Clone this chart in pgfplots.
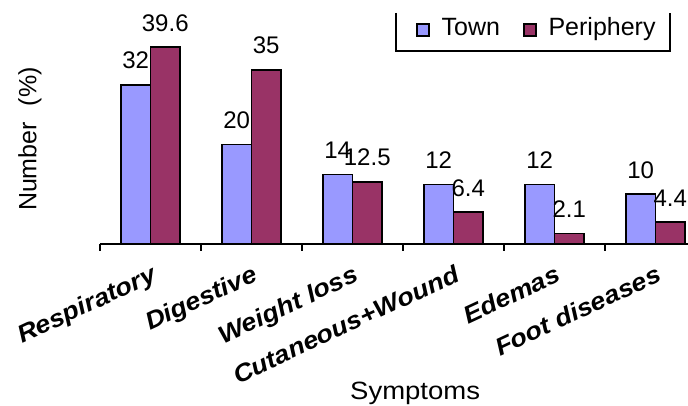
\documentclass[border=0pt]{standalone}
\usepackage{fontspec}
\setmainfont{Liberation Sans}
\newfontfamily\labfont{Liberation Sans}[FakeStretch=1.1]
\usepackage{pgfplots}
\pgfplotsset{compat=1.18}
\definecolor{town}{HTML}{9999FF}
\definecolor{peri}{HTML}{993366}
\begin{document}
\begin{tikzpicture}[x=1pt,y=1pt]
\useasboundingbox (0,0) rectangle (688,406);
\clip (0,0) rectangle (688,406);
\begin{axis}[
  at={(100pt,162pt)}, anchor=south west,
  scale only axis, width=606pt, height=244pt,
  xmin=-0.5, xmax=5.5, ymin=0, ymax=49.05,
  /pgf/number format/assume math mode=true,
  ybar=0pt, bar width=29.5pt,
  axis lines*=left,
  axis line style={-, line width=1.5pt},
  y axis line style={draw=none},
  ytick=\empty,
  xtick={0,...,5},
  xticklabels={Respiratory,Digestive,Weight loss,Cutaneous+Wound,Edemas,Foot diseases},
  minor xtick={-0.5,0.5,...,5.5},
  major tick length=0pt, minor tick length=7pt,
  tick align=outside,
  minor tick style={black, line width=1.3pt},
  xticklabel style={font=\labfont\fontsize{24.5}{28}\selectfont\bfseries\itshape, rotate=25, anchor=north east, inner sep=0pt},
  xticklabel shift=20pt,
  ylabel={Number\hspace{16pt}(\%)},
  ylabel style={at={(axis description cs:-0.1155,0.43)}, anchor=center, rotate=0, font=\fontsize{25}{28}\selectfont},
  xlabel={Symptoms},
  xlabel style={at={(axis description cs:0.52,-0.612)}, anchor=center, font=\labfont\fontsize{25}{28}\selectfont},
  nodes near coords,
  every node near coord/.append style={font=\fontsize{24}{28}\selectfont, anchor=base, yshift=16pt, black},
  legend cell align=left,
  legend columns=2,
  legend image code/.code={\draw[#1, line width=1.5pt] (0pt,0pt) rectangle (12pt,12pt);},
  legend style={at={(axis description cs:0.48845,0.7787)}, anchor=south west,
    draw=none, name=leg, inner xsep=20pt, inner ysep=0pt,
    font=\fontsize{25}{28}\selectfont,
    nodes={inner sep=0pt, text depth=18pt},
    cells={anchor=base west},
    /tikz/every odd column/.append style={column sep=12pt},
    /tikz/every even column/.append style={column sep=23pt}},
]
\addplot[fill=town, draw=black, line width=1.6pt] coordinates {(0,32) (1,20) (2,14) (3,12) (4,12) (5,10)};
\addlegendentry{Town}
\addplot[fill=peri, draw=black, line width=1.6pt] coordinates {(0,39.6) (1,35) (2,12.5) (3,6.4) (4,2.1) (5,4.4)};
\addlegendentry{Periphery}
\end{axis}
\draw[line width=1.3pt] (396,393) |- (670,355) -- (670,393);
\end{tikzpicture}
\end{document}
